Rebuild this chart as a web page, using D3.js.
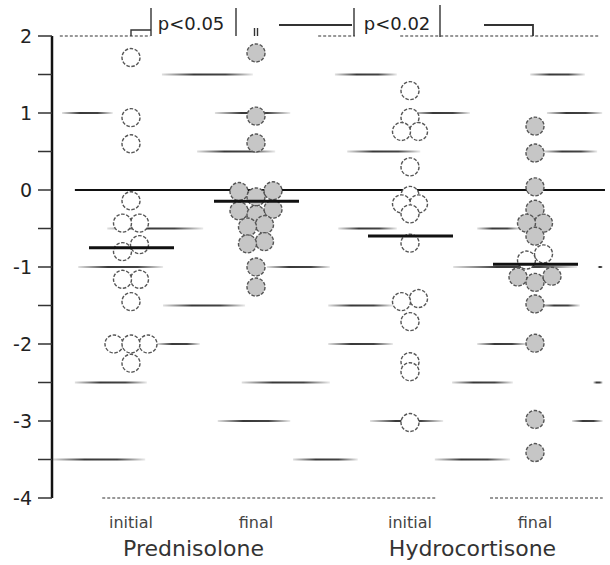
<!DOCTYPE html>
<html>
<head>
<meta charset="utf-8">
<script src="https://cdn.jsdelivr.net/npm/d3@7"></script>
<style>
  body { margin: 0; background: #fff; }
  svg { display: block; }
  text { font-family: "DejaVu Sans", Verdana, sans-serif; }
</style>
</head>
<body>
<div id="graph"></div>
<script>
var width = 610;
var height = 565;

// values
var drugs = ['Prednisolone', 'Hydrocortisone'];
var times = ['initial', 'final'];
var yTicks = [2, 1, 0, -1, -2, -3, -4];

var predInitial = [1.72, 0.94, 0.60, -0.14, -0.43, -0.43, -0.71, -0.80, -1.16, -1.16, -1.45, -2.0, -2.0, -2.0, -2.25];
var predFinal = [1.78, 0.96, 0.61, -0.01, -0.02, -0.09, -0.25, -0.27, -0.32, -0.45, -0.48, -0.67, -0.70, -1.0, -1.26];
var hydroInitial = [1.29, 0.94, 0.76, 0.76, 0.30, -0.07, -0.18, -0.18, -0.31, -0.69, -1.41, -1.45, -1.71, -2.23, -2.36, -3.02];
var hydroFinal = [0.83, 0.48, 0.04, -0.25, -0.43, -0.43, -0.60, -1.12, -1.13, -1.20, -1.48, -1.99, -2.98, -3.41];
var hydroFinalUnfilled = [-0.83, -0.91];

var pLabels = ['p<0.05', 'p<0.02'];

function pts(vals, filled) {
    return vals.map(function(v) { return {v: v, filled: filled}; });
}

var groups = [
    {drug: 'Prednisolone', time: 'initial', pts: pts(predInitial, false)},
    {drug: 'Prednisolone', time: 'final', pts: pts(predFinal, true)},
    {drug: 'Hydrocortisone', time: 'initial', pts: pts(hydroInitial, false)},
    {drug: 'Hydrocortisone', time: 'final', pts: pts(hydroFinal, true).concat(pts(hydroFinalUnfilled, false))}
];

var svg = d3.select('#graph')
    .append('svg')
    .attr('width', width)
    .attr('height', height);

var y = d3.scaleLinear().domain([-4, 2]).range([498, 36]);
var x0 = d3.scaleBand().domain(drugs).range([54, 612]);
var x1 = d3.scalePoint().domain(times).range([0, x0.bandwidth()]).padding(0.616);
function gx(g) { return x0(g.drug) + x1(g.time); }

// plot-width scale for the faded grid fragments of the scan
var px = d3.scaleLinear().domain([0, 100]).range([52, 610]);

var defs = svg.append('defs');
var grad = defs.append('linearGradient').attr('id', 'fade');
grad.append('stop').attr('offset', '0%').attr('stop-color', '#333').attr('stop-opacity', 0.15);
grad.append('stop').attr('offset', '35%').attr('stop-color', '#222').attr('stop-opacity', 0.9);
grad.append('stop').attr('offset', '70%').attr('stop-color', '#222').attr('stop-opacity', 0.85);
grad.append('stop').attr('offset', '100%').attr('stop-color', '#333').attr('stop-opacity', 0.1);

var gridBits = [
    [1.5, 19.7, 36.0], [1.5, 50.7, 61.8], [1.5, 85.7, 95.5],
    [1, 1.8, 10.9], [1, 29.2, 42.7], [1, 64.7, 74.9], [1, 88.7, 98.6],
    [0.5, 26, 40], [0.5, 52.9, 66], [0.5, 88, 97.7],
    [-0.5, 9.9, 27.1], [-0.5, 51.3, 61.8], [-0.5, 76.2, 83.9],
    [-1, 4.7, 19.9], [-1, 38.5, 49.8], [-1, 71.9, 94.1], [-1, 97.8, 98.7],
    [-1.5, 19.9, 34.6], [-1.5, 49.5, 61.1], [-1.5, 87.5, 94.6],
    [-2, 18.8, 26.5], [-2, 49.5, 61.1], [-2, 76.2, 85.1],
    [-2.5, 4.1, 17], [-2.5, 34, 49.8], [-2.5, 71.7, 82.6], [-2.5, 97, 98.7],
    [-3, 29.7, 42.7], [-3, 57, 70.1], [-3, 93.2, 98.7],
    [-3.5, 0, 16.7], [-3.5, 43.2, 54.8], [-3.5, 68.6, 82.1]
];
var dottedBits = [
    [2, 1.4, 17.6], [2, 47.7, 54.3], [2, 62.4, 98.2],
    [-4, 9, 69], [-4, 78.5, 98.7]
];

svg.append('g').selectAll('rect')
    .data(gridBits)
    .enter()
    .append('rect')
    .attr('x', function(d) { return px(d[1]); })
    .attr('y', function(d) { return y(d[0]) - 1; })
    .attr('width', function(d) { return px(d[2]) - px(d[1]); })
    .attr('height', 2)
    .attr('fill', 'url(#fade)');

svg.append('g').selectAll('line')
    .data(dottedBits)
    .enter()
    .append('line')
    .attr('x1', function(d) { return px(d[1]); })
    .attr('x2', function(d) { return px(d[2]); })
    .attr('y1', function(d) { return y(d[0]); })
    .attr('y2', function(d) { return y(d[0]); })
    .attr('stroke', '#777')
    .attr('stroke-width', 1.3)
    .attr('stroke-dasharray', '3,2');

// zero line
svg.append('line')
    .attr('x1', px(4.1)).attr('x2', px(99.1))
    .attr('y1', y(0)).attr('y2', y(0))
    .attr('stroke', '#111')
    .attr('stroke-width', 2.2);

// y axis
var axis = svg.append('g');
axis.append('line')
    .attr('x1', 52).attr('x2', 52)
    .attr('y1', y(2)).attr('y2', y(-4))
    .attr('stroke', '#111')
    .attr('stroke-width', 2.5);
axis.selectAll('.tick')
    .data(d3.range(-4, 2.01, 0.5))
    .enter()
    .append('line')
    .attr('x1', 38).attr('x2', 52)
    .attr('y1', function(d) { return y(d); })
    .attr('y2', function(d) { return y(d); })
    .attr('stroke', '#333')
    .attr('stroke-width', 1.5);
axis.selectAll('text')
    .data(yTicks)
    .enter()
    .append('text')
    .attr('x', 32)
    .attr('y', function(d) { return y(d); })
    .attr('dy', '0.36em')
    .attr('text-anchor', 'end')
    .attr('font-size', 19)
    .attr('fill', '#222')
    .text(function(d) { return d; });

// dodge points that sit at (nearly) the same height into short rows
function layout(list) {
    var sorted = list.slice().sort(function(a, b) { return b.v - a.v; });
    var rows = [], cur = null;
    sorted.forEach(function(p) {
        if (cur && cur[cur.length - 1].v - p.v < 0.1) cur.push(p);
        else { cur = [p]; rows.push(cur); }
    });
    rows.forEach(function(row) {
        var n = row.length;
        var order = n === 3 ? [row[1], row[2], row[0]] : row.slice().reverse();
        order.forEach(function(p, i) { p.dx = (i - (n - 1) / 2) * 17; });
    });
    return sorted;
}

groups.forEach(function(g) {
    var cx = gx(g);
    svg.append('g').selectAll('circle')
        .data(layout(g.pts))
        .enter()
        .append('circle')
        .attr('cx', function(d) { return cx + d.dx; })
        .attr('cy', function(d) { return y(d.v); })
        .attr('r', 9)
        .attr('fill', function(d) { return d.filled ? '#c6c6c6' : '#fff'; })
        .attr('stroke', '#555')
        .attr('stroke-width', 1.4)
        .attr('stroke-dasharray', '3.5,1.6');
});

// mean bars
svg.append('g').selectAll('line')
    .data(groups)
    .enter()
    .append('line')
    .attr('x1', function(g) { return gx(g) - 42; })
    .attr('x2', function(g) { return gx(g) + 43; })
    .attr('y1', function(g) { return y(d3.mean(g.pts, function(p) { return p.v; })); })
    .attr('y2', function(g) { return y(d3.mean(g.pts, function(p) { return p.v; })); })
    .attr('stroke', '#111')
    .attr('stroke-width', 3);

// significance brackets
var xa = gx(groups[0]), xb = gx(groups[1]), xd = gx(groups[3]);
var brackets = svg.append('g').attr('stroke', '#333').attr('stroke-width', 1.4).attr('fill', 'none');
brackets.append('path').attr('d', 'M' + xa + ',' + y(2) + 'V30H' + (xa + 20));
brackets.append('line').attr('x1', xa + 20).attr('x2', xa + 20).attr('y1', 8).attr('y2', y(2));
brackets.append('line').attr('x1', xb - 20).attr('x2', xb - 20).attr('y1', 8).attr('y2', y(2));
brackets.append('line').attr('x1', xb - 1.5).attr('x2', xb - 1.5).attr('y1', 28).attr('y2', y(2));
brackets.append('line').attr('x1', xb + 1.5).attr('x2', xb + 1.5).attr('y1', 28).attr('y2', y(2));
brackets.append('line').attr('x1', xb + 23).attr('x2', 352).attr('y1', 25).attr('y2', 25).attr('stroke-width', 1.8);
brackets.append('line').attr('x1', 354).attr('x2', 354).attr('y1', 8).attr('y2', y(2));
brackets.append('line').attr('x1', 440).attr('x2', 440).attr('y1', 5).attr('y2', 37);
brackets.append('path').attr('d', 'M484,25H' + (xd - 2) + 'V' + y(2)).attr('stroke-width', 1.8);

svg.selectAll('.plabel')
    .data(pLabels)
    .enter()
    .append('text')
    .attr('x', function(d, i) { return i === 0 ? 191 : 397; })
    .attr('y', 30)
    .attr('text-anchor', 'middle')
    .attr('font-size', 18)
    .attr('fill', '#222')
    .text(function(d) { return d; });

// category labels
svg.selectAll('.tlabel')
    .data(groups)
    .enter()
    .append('text')
    .attr('x', function(g) { return gx(g); })
    .attr('y', 528)
    .attr('text-anchor', 'middle')
    .attr('font-size', 16)
    .attr('fill', '#444')
    .text(function(g) { return g.time; });

svg.selectAll('.dlabel')
    .data(drugs)
    .enter()
    .append('text')
    .attr('x', function(d) { return x0(d) + x0.bandwidth() / 2; })
    .attr('y', 556)
    .attr('text-anchor', 'middle')
    .attr('font-size', 22)
    .attr('fill', '#333')
    .text(function(d) { return d; });
</script>
</body>
</html>
